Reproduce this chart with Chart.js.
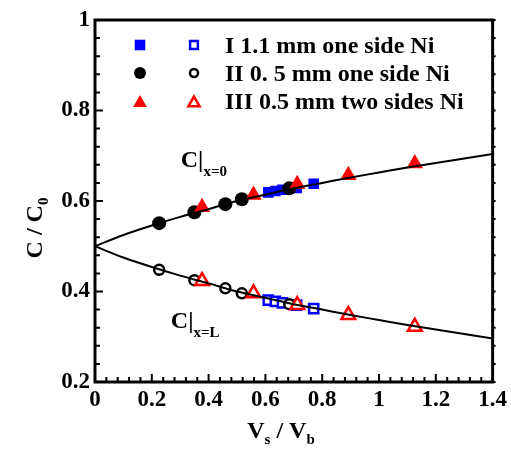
<!DOCTYPE html>
<html>
<head>
<meta charset="utf-8">
<script src="https://cdn.jsdelivr.net/npm/chart.js@4.4.1/dist/chart.umd.min.js"></script>
<style>
  html, body { margin: 0; padding: 0; background: #fff; }
  #wrap { width: 511px; height: 452px; }
</style>
</head>
<body>
<div id="wrap"><canvas id="myChart" width="511" height="452"></canvas></div>
<script>
const FONT = '"Liberation Serif", "Times New Roman", serif';

// model curves C|x=0 and C|x=L
const curveX = [0, 0.1, 0.2, 0.3, 0.4, 0.5, 0.6, 0.7, 0.8, 0.9, 1.0, 1.1, 1.2, 1.3, 1.4];
const curveUpper = [0.5, 0.525, 0.546, 0.565, 0.582, 0.600, 0.614, 0.628, 0.640, 0.652, 0.663, 0.674, 0.684, 0.694, 0.704];
const curveLower = [0.5, 0.475, 0.454, 0.435, 0.418, 0.400, 0.386, 0.372, 0.360, 0.348, 0.337, 0.326, 0.316, 0.306, 0.296];

// I 1.1 mm one side Ni
const xI = [0.61, 0.635, 0.66, 0.71, 0.77];
const yI0 = [0.619, 0.622, 0.625, 0.629, 0.638];
const yIL = [0.381, 0.378, 0.375, 0.370, 0.362];

// II 0.5 mm one side Ni
const xII = [0.226, 0.35, 0.459, 0.517, 0.684];
const yII0 = [0.551, 0.575, 0.593, 0.604, 0.628];
const yIIL = [0.448, 0.425, 0.407, 0.396, 0.372];

// III 0.5 mm two sides Ni
const xIII = [0.377, 0.558, 0.712, 0.892, 1.126];
const yIII0 = [0.586, 0.613, 0.637, 0.657, 0.683];
const yIIIL = [0.423, 0.396, 0.370, 0.348, 0.322];

const legendLabels = ['I 1.1 mm one side Ni', 'II 0. 5 mm one side Ni', 'III 0.5 mm two sides Ni'];

const blue = 'rgb(0, 0, 255)';
const red = 'rgb(255, 0, 0)';
const black = 'rgb(0, 0, 0)';

const pts = (xs, ys) => xs.map((x, i) => ({x: x, y: ys[i]}));

function drawMarker(ctx, style, r, x, y, fill, stroke, lw) {
  ctx.beginPath();
  if (style === 'rect') {
    const s = Math.SQRT1_2 * r;
    ctx.rect(x - s, y - s, 2 * s, 2 * s);
  } else if (style === 'circle') {
    ctx.arc(x, y, r, 0, Math.PI * 2);
  } else {
    ctx.moveTo(x, y - r);
    ctx.lineTo(x + Math.sin(Math.PI / 3) * r, y + r / 2);
    ctx.lineTo(x - Math.sin(Math.PI / 3) * r, y + r / 2);
    ctx.closePath();
  }
  ctx.fillStyle = fill;
  ctx.fill();
  if (lw > 0) {
    ctx.lineWidth = lw;
    ctx.strokeStyle = stroke;
    ctx.stroke();
  }
}

// text with subscripts: parts = [text, size, dy]
function richText(ctx, parts, x, y, centered) {
  let w = 0;
  parts.forEach(p => { ctx.font = 'bold ' + p[1] + 'px ' + FONT; w += ctx.measureText(p[0]).width; });
  let cx = centered ? x - w / 2 : x;
  parts.forEach(p => {
    ctx.font = 'bold ' + p[1] + 'px ' + FONT;
    ctx.fillText(p[0], cx, y + p[2]);
    cx += ctx.measureText(p[0]).width;
  });
}

const framePlugin = {
  id: 'frame',
  afterDraw(chart) {
    const ctx = chart.ctx;
    const a = chart.chartArea;
    const xs = chart.scales.x, ys = chart.scales.y;
    ctx.save();
    ctx.strokeStyle = black;
    ctx.fillStyle = black;

    // minor + major ticks, pointing inward
    ctx.lineWidth = 2;
    ctx.beginPath();
    for (let i = 0; i <= 35; i++) {
      const px = xs.getPixelForValue(i * 0.04);
      const len = i % 5 === 0 ? 8 : 5;
      ctx.moveTo(px, a.bottom);
      ctx.lineTo(px, a.bottom - len);
    }
    for (let i = 0; i <= 20; i++) {
      const py = ys.getPixelForValue(0.2 + i * 0.04);
      const len = i % 5 === 0 ? 8 : 5;
      ctx.moveTo(a.left, py);
      ctx.lineTo(a.left + len, py);
      ctx.moveTo(a.right, py);
      ctx.lineTo(a.right + 3, py);
    }
    ctx.stroke();

    ctx.lineWidth = 3;
    ctx.strokeRect(a.left, a.top, a.right - a.left, a.bottom - a.top);

    // axis titles
    ctx.textBaseline = 'alphabetic';
    richText(ctx, [['V', 24, 0], ['s', 15, 6], [' / V', 24, 0], ['b', 15, 6]], 281, 438, true);
    ctx.save();
    ctx.translate(42, 228);
    ctx.rotate(-Math.PI / 2);
    richText(ctx, [['C / C', 24, 0], ['0', 15, 6]], 0, 0, true);
    ctx.restore();

    // curve labels
    richText(ctx, [['C|', 24, 0], ['x=0', 15, 9]], xs.getPixelForValue(0.302), ys.getPixelForValue(0.675), false);
    richText(ctx, [['C|', 24, 0], ['x=L', 15, 9]], xs.getPixelForValue(0.267), ys.getPixelForValue(0.319), false);

    // legend
    const rows = [45, 73, 101];
    const styles = ['rect', 'circle', 'triangle'];
    const cols = [blue, black, red];
    const rFill = [7.5, 6, 8];
    const rOpen = [5.5, 4, 6.5];
    rows.forEach((ry, i) => {
      const dy = styles[i] === 'triangle' ? 2 : 0;
      drawMarker(ctx, styles[i], rFill[i], 140, ry + dy, cols[i], cols[i], 0);
      drawMarker(ctx, styles[i], rOpen[i], 194, ry + dy, '#fff', cols[i], 2.5);
      ctx.fillStyle = black;
      ctx.font = 'bold 24px ' + FONT;
      ctx.fillText(legendLabels[i], 225, ry + 8);
    });
    ctx.restore();
  }
};

const ctx = document.getElementById('myChart').getContext('2d');
const tickFont = {family: FONT, size: 23, weight: 'bold'};
const tickLabel = v => String(Number(v.toFixed(2)));

const myChart = new Chart(ctx, {
  type: 'scatter',
  data: {
    datasets: [
      {data: pts(curveX, curveUpper), showLine: true, borderColor: black, borderWidth: 2, pointRadius: 0, cubicInterpolationMode: 'monotone'},
      {data: pts(curveX, curveLower), showLine: true, borderColor: black, borderWidth: 2, pointRadius: 0, cubicInterpolationMode: 'monotone'},
      {data: pts(xIII, yIII0), pointStyle: 'triangle', pointRadius: 9.5, backgroundColor: red, borderColor: red, borderWidth: 0},
      {data: pts(xIII, yIIIL), pointStyle: 'triangle', pointRadius: 8, backgroundColor: '#fff', borderColor: red, borderWidth: 2.5},
      {data: pts(xII, yII0), pointStyle: 'circle', pointRadius: 7, backgroundColor: black, borderColor: black, borderWidth: 0},
      {data: pts(xII, yIIL), pointStyle: 'circle', pointRadius: 5, backgroundColor: '#fff', borderColor: black, borderWidth: 2.5},
      {data: pts(xI, yI0), pointStyle: 'rect', pointRadius: 7.5, backgroundColor: blue, borderColor: blue, borderWidth: 0},
      {data: pts(xI, yIL), pointStyle: 'rect', pointRadius: 6.5, backgroundColor: '#fff', borderColor: blue, borderWidth: 2.5}
    ]
  },
  options: {
    responsive: false,
    animation: false,
    events: [],
    layout: {
      padding: {top: 20, right: 14, left: 0, bottom: 0}
    },
    plugins: {
      legend: {display: false},
      tooltip: {enabled: false}
    },
    scales: {
      x: {
        min: 0, max: 1.4,
        ticks: {stepSize: 0.2, font: tickFont, color: black, padding: 4, maxRotation: 0, callback: tickLabel},
        grid: {display: false, drawTicks: false},
        border: {display: false},
        afterFit: s => { s.height = 70; }
      },
      y: {
        min: 0.2, max: 1,
        ticks: {stepSize: 0.2, font: tickFont, color: black, padding: 5, callback: tickLabel},
        grid: {display: false, drawTicks: false},
        border: {display: false},
        afterFit: s => { s.width = 95; }
      }
    }
  },
  plugins: [framePlugin]
});
</script>
</body>
</html>
